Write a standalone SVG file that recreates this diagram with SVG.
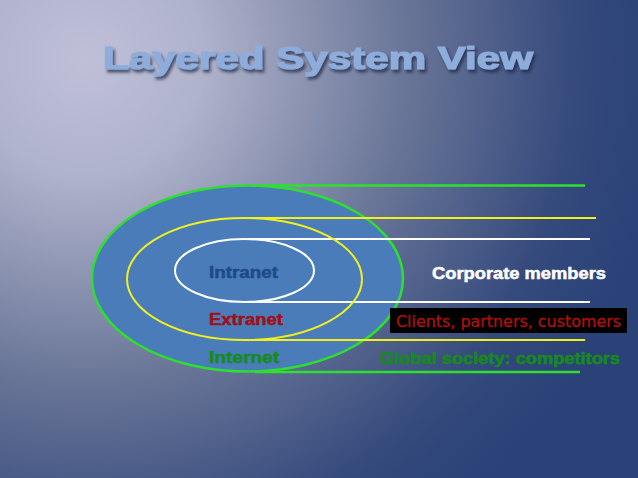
<svg xmlns="http://www.w3.org/2000/svg" width="638" height="478" viewBox="0 0 638 478">
<defs>
<radialGradient id="bg" cx="85" cy="60" r="580" gradientUnits="userSpaceOnUse">
<stop offset="0" stop-color="#bfc0d8"/>
<stop offset="0.2" stop-color="#b0b3cc"/>
<stop offset="0.55" stop-color="#6a7698"/>
<stop offset="0.85" stop-color="#34497c"/>
<stop offset="1" stop-color="#2a4278"/>
</radialGradient>
<filter id="sh" x="-5%" y="-20%" width="110%" height="150%">
<feGaussianBlur in="SourceAlpha" stdDeviation="1.5"/>
<feOffset dx="2" dy="3" result="b"/>
<feFlood flood-color="#1a2440" flood-opacity="0.7"/>
<feComposite in2="b" operator="in"/>
<feMerge><feMergeNode/><feMergeNode in="SourceGraphic"/></feMerge>
</filter>
</defs>
<style>
.lbl{font-family:"Liberation Sans",Arial,sans-serif;font-weight:bold;font-size:16px}
.g{stroke:#2ee02e;stroke-width:2.5;fill:none}
.y{stroke:#f0f020;stroke-width:2;fill:none}
.w{stroke:#ffffff;stroke-width:2;fill:none}
.blue{fill:#4a7cb9}
</style>
<rect width="638" height="478" fill="url(#bg)"/>
<text x="318" y="69" text-anchor="middle" font-family="Liberation Sans,Arial,sans-serif" font-weight="bold" font-size="31" fill="#8eaddc" stroke="#8eaddc" stroke-width="1.2" textLength="430" lengthAdjust="spacingAndGlyphs" filter="url(#sh)">Layered System View</text>
<g id="internet">
<ellipse cx="247.5" cy="278.5" rx="155.5" ry="93" class="g blue"/>
</g>
<g id="connectors">
<line class="g" x1="255" y1="185.5" x2="585" y2="185.5"/>
<line class="g" x1="255" y1="372" x2="580" y2="372"/>
<line class="y" x1="248" y1="218" x2="596" y2="218"/>
<line class="y" x1="248" y1="340" x2="585" y2="340"/>
<line class="w" x1="248" y1="239" x2="590" y2="239"/>
<line class="w" x1="248" y1="302" x2="590" y2="302"/>
</g>
<g id="extranet">
<ellipse cx="244.5" cy="279" rx="117.5" ry="61" class="y"/>
</g>
<g id="intranet">
<ellipse cx="244.5" cy="270.5" rx="69.5" ry="31.5" class="w blue"/>
<text class="lbl" x="209" y="278" fill="#1f4a8a" stroke="#1f4a8a" stroke-width="0.5" textLength="69" lengthAdjust="spacingAndGlyphs">Intranet</text>
</g>
<text class="lbl" x="209" y="325" fill="#a01018" stroke="#a01018" stroke-width="0.5" textLength="74" lengthAdjust="spacingAndGlyphs">Extranet</text>
<text class="lbl" x="209" y="363" fill="#178a1e" stroke="#178a1e" stroke-width="0.5" textLength="70" lengthAdjust="spacingAndGlyphs">Internet</text>
<g id="corporate">
<text class="lbl" x="432" y="279" fill="#ffffff" stroke="#ffffff" stroke-width="0.5" textLength="174" lengthAdjust="spacingAndGlyphs">Corporate members</text>
</g>
<g id="clients">
<rect x="390" y="308" width="237" height="25" fill="#000000"/>
<text x="396" y="327" font-family="DejaVu Sans,Verdana,sans-serif" font-size="16" fill="#b01010" stroke="#b01010" stroke-width="0.3" textLength="225" lengthAdjust="spacingAndGlyphs">Clients, partners, customers</text>
</g>
<g id="global">
<text class="lbl" x="380" y="364" fill="#178a1e" stroke="#178a1e" stroke-width="0.5" textLength="240" lengthAdjust="spacingAndGlyphs">Global society: competitors</text>
</g>
</svg>
